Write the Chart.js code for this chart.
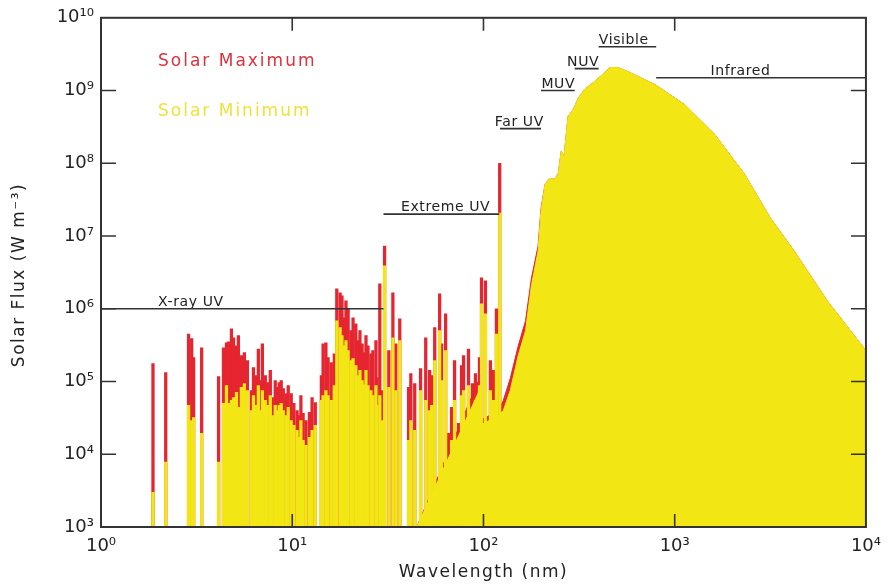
<!DOCTYPE html>
<html><head><meta charset="utf-8">
<script src="https://cdn.jsdelivr.net/npm/chart.js@4.4.0/dist/chart.umd.min.js"></script>
<style>html,body{margin:0;padding:0;background:#fff}#wrap{width:890px;height:585px;position:relative}</style>
</head><body><div id="wrap"><canvas id="c" width="890" height="585"></canvas></div>
<script>
// ---- Emission-line spectrum (nm, W m^-3) ----
const lineWavelength = [1.87,2.18,2.87,2.98,3.05,3.36,4.12,4.37,4.53,4.64,4.81,4.93,5.11,5.23,5.42,5.62,5.83,6.11,6.27,6.49,6.65,6.81,6.98,7.23,7.41,7.68,7.87,8.15,8.35,8.55,8.76,8.98,9.30,9.53,9.88,10.2,10.6,10.9,11.1,11.4,11.8,12.3,12.7,13.2,14.2,14.5,15.0,15.4,16.0,16.6,17.1,17.8,18.2,18.7,19.1,19.6,20.3,20.8,21.5,22.1,22.6,23.2,23.8,24.3,24.9,25.8,26.4,27.4,27.7,28.7,29.4,30.4,32.0,33.6,34.8,36.5,40.6,41.7,43.7,46.9,49.9,52.3,53.6,55.6,59.0,60.4,63.4,65.7,68.1,70.6,74.1,76.8,78.7,83.5,87.6,90.8,95.3,97.7,102.4,108.7,112.7,116.9,121.6];
const lineMaxFlux = [1.77e5,1.33e5,4.5e5,3.9e5,2.13e5,2.9e5,1.17e5,2.9e5,3.4e5,3.5e5,5.3e5,4.0e5,3.1e5,4.27e5,2.27e5,2.5e5,1.94e5,7.5e4,1.55e5,1.21e5,2.8e5,1.03e5,3.3e5,1.21e5,9.7e4,1.42e5,6.0e4,1.03e5,8.3e4,9.7e4,1.03e5,8.0e4,6.85e4,8.8e4,6.85e4,5.0e4,4.0e4,3.4e4,6.4e4,3.65e4,2.9e4,3.76e4,6.0e4,5.15e4,1.21e5,3.3e5,3.4e5,2.13e5,1.82e5,2.4e5,1.88e6,1.66e6,1.51e6,7.5e5,1.29e6,1.0e6,5.0e5,7.5e5,6.2e5,3.65e5,5.0e5,3.3e5,2.5e5,4.27e5,3.1e5,2.4e5,2.66e5,3.65e5,1.13e5,2.2e6,7.5e4,7.3e6,2.66e5,1.66e6,3.3e5,7.3e5,8.3e4,1.29e5,9.4e4,1.5e5,4.0e5,1.42e5,1.21e5,5.5e5,1.6e6,3.3e5,8.5e5,1.94e4,4.4e4,1.94e5,2.66e4,1.66e5,2.27e5,2.8e5,9.4e4,1.29e5,2.13e5,2.66e6,2.42e6,1.94e5,1.42e5,1.0e6,1.0e8];
const lineMinFlux = [3.0e3,7.8e3,4.7e4,2.9e4,3.2e4,1.94e4,7.8e3,5.0e4,8.8e4,5.0e4,5.5e4,6.0e4,7.1e4,4.4e4,8.3e4,9.4e4,7.5e4,4.0e4,6.4e4,4.7e4,8.8e4,4.0e4,7.5e4,5.5e4,4.7e4,6.4e4,3.4e4,4.7e4,4.0e4,4.7e4,5.0e4,4.0e4,3.4e4,4.4e4,2.9e4,2.5e4,2.13e4,1.71e4,2.9e4,1.55e4,1.33e4,1.71e4,2.13e4,2.5e4,5.5e4,6.4e4,7.5e4,6.4e4,5.5e4,8.8e4,6.85e5,5.5e5,4.27e5,3.1e5,3.65e5,2.66e5,1.94e5,2.07e5,1.66e5,1.21e5,1.42e5,1.03e5,9.0e4,1.42e5,8.8e4,7.5e4,6.4e4,8.8e4,4.7e4,6.4e4,2.9e4,3.9e6,8.3e4,4.0e5,7.5e4,3.65e5,1.55e4,2.9e4,2.13e4,7.5e4,5.5e4,4.0e4,4.7e4,1.94e5,5.0e5,1.03e5,2.66e5,6.6e3,1.55e4,5.5e4,8.3e3,6.4e4,7.5e4,8.8e4,4.0e4,5.5e4,8.8e4,1.17e6,8.5e5,7.5e4,5.5e4,4.5e5,2.07e7];

// ---- Continuum (nm, W m^-3) ----
const contWavelength = [44.8,94.2,96,120,127,138,152,166,178,193,200,210,223,234,246,255,264,271,277,295,313,340,365,397,437,459,505,569,787,1128,1616,2316,3162,4217,6266,10000];
const contMaxFlux = [1e3,1.03e5,2.9e4,4.0e4,5.5e4,1.1e5,3.1e5,6.85e5,2.6e6,7.3e6,2.4e7,5.2e7,6.2e7,6.0e7,7.1e7,1.46e8,1.25e8,2.5e8,4.4e8,5.5e8,7.8e8,1.06e9,1.21e9,1.46e9,1.82e9,2.07e9,2.07e9,1.82e9,1.21e9,6.4e8,2.5e8,7.1e7,1.77e7,6.2e6,1.29e6,2.66e5];
const contMinFlux = [1e3,7.1e4,2.5e4,3.4e4,4.0e4,7.5e4,2.27e5,5.0e5,2.07e6,6.2e6,2.2e7,5.2e7,6.2e7,6.0e7,7.1e7,1.46e8,1.25e8,2.5e8,4.4e8,5.5e8,7.8e8,1.06e9,1.21e9,1.46e9,1.82e9,2.07e9,2.07e9,1.82e9,1.21e9,6.4e8,2.5e8,7.1e7,1.77e7,6.2e6,1.29e6,2.66e5];

// ---- Spectral bands ----
const bandNames = ['X-ray UV','Extreme UV','Far UV','MUV','NUV','Visible','Infrared'];
const bandStart = [1,30,122,200,300,400,800];
const bandEnd   = [30,121,200,300,400,800,10000];
const bandLevel = [1e6,2e7,3e8,1e9,2e9,4e9,1.5e9];
const bandLabelAt = [2.95,63.4,154,246,332,542,2208];

// ---- Ticks ----
const xTickValues = [1,10,100,1000,10000];
const xTickLabels = ['10⁰','10¹','10²','10³','10⁴'];
const yTickValues = [1e3,1e4,1e5,1e6,1e7,1e8,1e9,1e10];
const yTickLabels = ['10³','10⁴','10⁵','10⁶','10⁷','10⁸','10⁹','10¹⁰'];

const seriesNames = ['Solar Maximum','Solar Minimum'];
const RED = '#e5252f', YEL = '#f2e614', AXIS = '#333333', FONT = 'DejaVu Sans';

const pts = (xs, ys) => xs.map((x, i) => ({x: x, y: ys[i]}));

const datasets = [
  {type:'line', label:'contMax', data: pts(contWavelength, contMaxFlux), borderColor: RED, backgroundColor: RED, borderWidth: 1, pointRadius: 0, fill: 'start', order: 5},
  {type:'bar', label: seriesNames[0], data: pts(lineWavelength, lineMaxFlux), backgroundColor: RED, barThickness: 2.6, grouped: false, order: 4},
  {type:'line', label:'contMin', data: pts(contWavelength, contMinFlux), borderColor: YEL, backgroundColor: YEL, borderWidth: 1, pointRadius: 0, fill: 'start', order: 3},
  {type:'bar', label: seriesNames[1], data: pts(lineWavelength, lineMinFlux), backgroundColor: YEL, barThickness: 2.6, grouped: false, order: 2}
];
bandNames.forEach((n, i) => {
  datasets.push({type:'line', label: n, data: [{x: bandStart[i], y: bandLevel[i]}, {x: bandEnd[i], y: bandLevel[i]}],
    borderColor: AXIS, borderWidth: 1.6, pointRadius: 0, fill: false, order: 0});
});

const decor = {
  id: 'decor',
  afterDatasetsDraw(chart) {
    const ctx = chart.ctx, a = chart.chartArea, xs = chart.scales.x, ys = chart.scales.y;
    ctx.save();
    ctx.strokeStyle = AXIS; ctx.lineWidth = 2;
    ctx.strokeRect(a.left, a.top, a.right - a.left, a.bottom - a.top);
    ctx.lineWidth = 1.6;
    ctx.beginPath();
    yTickValues.slice(1, -1).forEach(v => {
      const y = ys.getPixelForValue(v);
      ctx.moveTo(a.left, y); ctx.lineTo(a.left + 15, y);
      ctx.moveTo(a.right, y); ctx.lineTo(a.right - 15, y);
    });
    xTickValues.slice(1, -1).forEach(v => {
      const x = xs.getPixelForValue(v);
      ctx.moveTo(x, a.bottom); ctx.lineTo(x, a.bottom - 13);
      ctx.moveTo(x, a.top); ctx.lineTo(x, a.top + 13);
    });
    ctx.stroke();
    ctx.fillStyle = '#222';
    ctx.font = '14px "' + FONT + '"';
    ctx.letterSpacing = '0.6px';
    ctx.textAlign = 'center'; ctx.textBaseline = 'alphabetic';
    bandNames.forEach((n, i) => {
      ctx.fillText(n, xs.getPixelForValue(bandLabelAt[i]), ys.getPixelForValue(bandLevel[i]) - 3);
    });
    ctx.font = '17px "' + FONT + '"';
    ctx.letterSpacing = '2px';
    ctx.textAlign = 'left'; ctx.textBaseline = 'middle';
    ctx.fillStyle = '#e0303c'; ctx.fillText(seriesNames[0], 158, 62);
    ctx.fillStyle = '#eee33a'; ctx.fillText(seriesNames[1], 158, 112);
    ctx.fillStyle = '#222';
    ctx.font = '17px "' + FONT + '"';
    ctx.letterSpacing = '1.5px';
    ctx.textAlign = 'center';
    ctx.fillText('Wavelength (nm)', (a.left + a.right) / 2, 573);
    ctx.translate(20, 275); ctx.rotate(-Math.PI / 2);
    ctx.fillText('Solar Flux (W m⁻³)', 0, 0);
    ctx.restore();
  }
};

new Chart(document.getElementById('c'), {
  type: 'line',
  data: {datasets},
  options: {
    responsive: false, animation: false,
    layout: {padding: {top: 16, right: 21, left: 0, bottom: 0}},
    plugins: {legend: {display: false}, tooltip: {enabled: false}},
    scales: {
      x: {type: 'logarithmic', min: 1, max: 10000, offset: false,
        grid: {display: false, drawTicks: false}, border: {display: false},
        afterBuildTicks: s => { s.ticks = xTickValues.map(v => ({value: v})); },
        afterFit: s => { s.height = 58; },
        ticks: {autoSkip: false, maxRotation: 0, padding: 9, color: '#222', font: {family: FONT, size: 18},
          callback: v => { const i = xTickValues.indexOf(v); return i >= 0 ? xTickLabels[i] : ''; }}},
      y: {type: 'logarithmic', min: 1e3, max: 1e10,
        grid: {display: false, drawTicks: false}, border: {display: false},
        afterBuildTicks: s => { s.ticks = yTickValues.map(v => ({value: v})); },
        afterFit: s => { s.width = 101; },
        ticks: {autoSkip: false, padding: 7, color: '#222', font: {family: FONT, size: 18},
          callback: v => { const i = yTickValues.indexOf(v); return i >= 0 ? yTickLabels[i] : ''; }}}
    }
  },
  plugins: [decor]
});
</script></body></html>
